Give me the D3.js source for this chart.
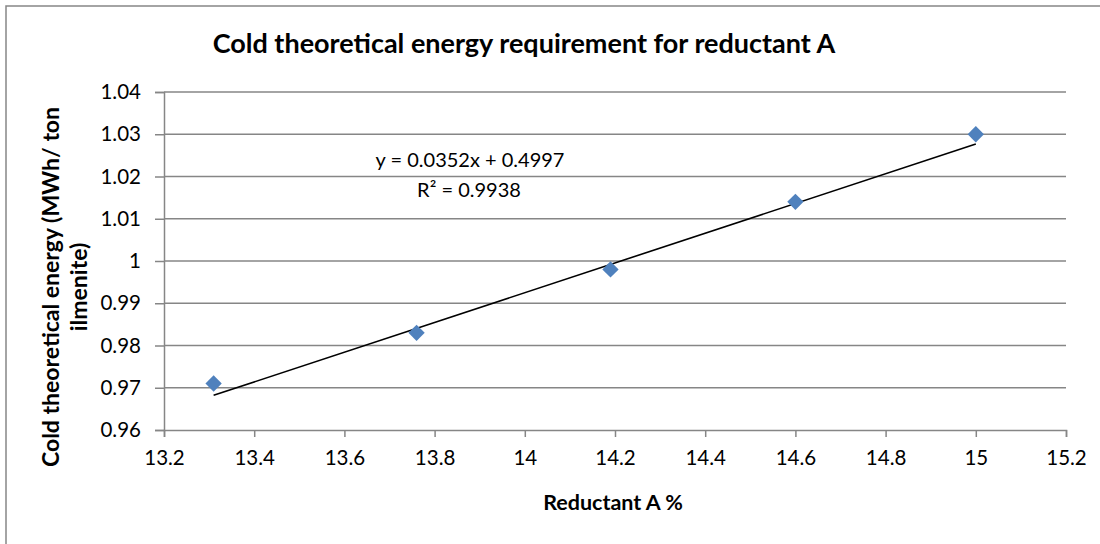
<!DOCTYPE html>
<html>
<head>
<meta charset="utf-8">
<script src="https://cdn.jsdelivr.net/npm/d3@7"></script>
<style>
  body { margin: 0; background: #fff; }
  text { font-family: Lato, "Open Sans", sans-serif; fill: #000; }
</style>
</head>
<body>
<svg id="draw" width="1100" height="544"></svg>
<script>
// data
var reductant = [13.31, 13.76, 14.19, 14.6, 15.0];
var energy = [0.971, 0.983, 0.998, 1.014, 1.030];
var xTicks = [13.2, 13.4, 13.6, 13.8, 14, 14.2, 14.4, 14.6, 14.8, 15, 15.2];
var yTicks = [0.96, 0.97, 0.98, 0.99, 1, 1.01, 1.02, 1.03, 1.04];
var slope = 0.0352, intercept = 0.4997;
var eqLabel = "y = 0.0352x + 0.4997";
var r2Label = "R² = 0.9938";

var svg = d3.select("#draw");
var grey = "#868686";

// ----------------------------------------------------------------------------

var xScale = d3.scaleLinear().domain([13.2, 15.2]).range([164, 1066]);
var yScale = d3.scaleLinear().domain([0.96, 1.04]).range([430, 92]);

// outer chart border (only top/left visible)
svg.append("rect")
    .attr("x", 6).attr("y", 6).attr("width", 1200).attr("height", 700)
    .attr("fill", "none").attr("stroke", grey).attr("stroke-width", 1.5);

// gridlines
svg.append("g").selectAll("line")
    .data(yTicks.slice(1))
    .enter().append("line")
    .attr("x1", xScale(13.2)).attr("x2", xScale(15.2))
    .attr("y1", (d) => yScale(d)).attr("y2", (d) => yScale(d))
    .attr("stroke", grey).attr("stroke-width", 1.5);

// axes
var xAxis = d3.axisBottom(xScale).tickValues(xTicks).tickSize(7).tickPadding(13)
    .tickFormat(d3.format(""));
var yAxis = d3.axisLeft(yScale).tickValues(yTicks).tickSize(9).tickPadding(14)
    .tickFormat((d) => String(d));

var gx = svg.append("g").attr("transform", `translate(0,${yScale(0.96)})`).call(xAxis);
var gy = svg.append("g").attr("transform", `translate(${xScale(13.2)},0)`).call(yAxis);
[gx, gy].forEach(function (g) {
    g.select(".domain").attr("stroke", grey).attr("stroke-width", 1.5);
    g.selectAll(".tick line").attr("stroke", grey).attr("stroke-width", 1.5);
    g.selectAll(".tick text").attr("font-family", "Lato").attr("font-size", 20.5).attr("fill", "#000");
});
gx.selectAll(".tick text").attr("dy", "0.71em");

// trendline
var x0 = d3.min(reductant), x1 = d3.max(reductant);
svg.append("line")
    .attr("x1", xScale(x0)).attr("y1", yScale(slope * x0 + intercept))
    .attr("x2", xScale(x1)).attr("y2", yScale(slope * x1 + intercept))
    .attr("stroke", "#000").attr("stroke-width", 1.6);

// markers
svg.append("g").selectAll("path")
    .data(reductant)
    .enter().append("path")
    .attr("d", d3.symbol().type(d3.symbolDiamond2).size(170))
    .attr("transform", (d, i) => `translate(${xScale(d)},${yScale(energy[i])})`)
    .attr("fill", "#4F81BD");

// equation
svg.append("text").attr("x", 470).attr("y", 167).attr("text-anchor", "middle")
    .attr("font-size", 20).text(eqLabel);
svg.append("text").attr("x", 469).attr("y", 197).attr("text-anchor", "middle")
    .attr("font-size", 20).text(r2Label);

// titles
svg.append("text").attr("x", 524).attr("y", 53).attr("text-anchor", "middle")
    .attr("font-size", 27).attr("font-weight", "bold")
    .text("Cold theoretical energy requirement for reductant A");
svg.append("text").attr("x", 613).attr("y", 510).attr("text-anchor", "middle")
    .attr("font-size", 21.5).attr("font-weight", "bold").text("Reductant A %");

var yt = svg.append("text").attr("transform", "translate(51,287) rotate(-90)")
    .attr("text-anchor", "middle").attr("font-size", 23).attr("font-weight", "bold");
yt.append("tspan").attr("x", 0).attr("dy", "0.35em").text("Cold theoretical energy (MWh/ ton");
yt.append("tspan").attr("x", 0).attr("dy", "1.2em").text("ilmenite)");
</script>
</body>
</html>
